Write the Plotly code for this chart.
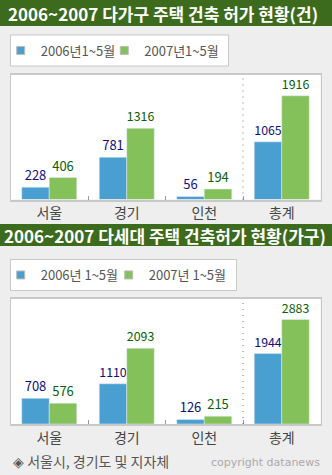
import plotly.graph_objects as go

W, H = 332, 475

# ---- data ----
regions = ["서울", "경기", "인천", "총계"]

title_house = "2006~2007 다가구 주택 건축 허가 현황(건)"
house_2006 = [228, 781, 56, 1065]
house_2007 = [406, 1316, 194, 1916]
house_names = ["2006년1~5월", "2007년1~5월"]

title_multi = "2006~2007 다세대 주택 건축허가 현황(가구)"
multi_2006 = [708, 1110, 126, 1944]
multi_2007 = [576, 2093, 215, 2883]
multi_names = ["2006년 1~5월", "2007년 1~5월"]

source_note = "◈ 서울시, 경기도 및 지자체"
copyright_note = "copyright datanews"

# ---- style ----
BLUE = "#4a9fd1"
GREEN = "#85c15a"
BLUE_TXT = "#10107a"
GREEN_TXT = "#0a600a"
TITLE_BG = "#3c6b1e"
PAGE_BG = "#eeeeee"
BORDER = "#c8c8c8"
KR = "Noto Sans CJK KR"


def px_x(v):
    return v / W


def px_y(v):
    return 1 - v / H


fig = go.Figure()


def add_panel(vals_a, vals_b, names, xa, ya, legend_ids):
    fig.add_trace(go.Bar(
        x=regions, y=vals_a, name=names[0], marker_color=BLUE,
        text=[str(v) for v in vals_a], textposition="outside",
        textfont=dict(color=BLUE_TXT, size=13, family=KR),
        cliponaxis=False, showlegend=False, xaxis=xa, yaxis=ya,
    ))
    fig.add_trace(go.Bar(
        x=regions, y=vals_b, name=names[1], marker_color=GREEN,
        text=[str(v) for v in vals_b], textposition="outside",
        textfont=dict(color=GREEN_TXT, size=13, family=KR),
        cliponaxis=False, showlegend=False, xaxis=xa, yaxis=ya,
    ))
    # legend swatches, one legend per entry so each can be placed freely
    for name, col, lid in zip(names, [BLUE, GREEN], legend_ids):
        fig.add_trace(go.Scatter(
            x=[None], y=[None], mode="markers", name=name,
            marker=dict(symbol="square", size=8, color=col,
                        line=dict(color="#bbbbbb", width=1)),
            xaxis=xa, yaxis=ya, legend=lid,
        ))


add_panel(house_2006, house_2007, house_names, "x", "y", ["legend", "legend2"])
add_panel(multi_2006, multi_2007, multi_names, "x2", "y2", ["legend3", "legend4"])

xcommon = dict(
    type="category", range=[-0.5, 3.5], showgrid=False, zeroline=False,
    showline=True, linecolor=BORDER, linewidth=1.5, mirror=True,
    ticks="inside", ticklen=4, tickcolor="#999999", tickson="boundaries",
    tickfont=dict(size=14, color="#444444", family=KR), fixedrange=True,
)
ycommon = dict(
    showgrid=False, zeroline=False, showticklabels=False, ticks="",
    showline=True, linecolor=BORDER, linewidth=1, mirror=True, fixedrange=True,
)

p1 = (75, 199.5)
p2 = (299, 424)
xdom = [px_x(10.5), px_x(320.5)]


def legend_at(px, py):
    return dict(
        orientation="h", x=px_x(px), y=px_y(py), xanchor="left", yanchor="middle",
        bgcolor="rgba(0,0,0,0)", borderwidth=0,
        font=dict(size=13, color="#555555", family=KR),
    )


fig.update_layout(
    width=W, height=H, margin=dict(l=0, r=0, t=0, b=0),
    paper_bgcolor=PAGE_BG, plot_bgcolor="white",
    barmode="group", bargap=0.29, bargroupgap=0,
    xaxis=dict(domain=xdom, anchor="y", **xcommon),
    yaxis=dict(domain=[px_y(p1[1]), px_y(p1[0])], anchor="x", range=[0, 2300], **ycommon),
    xaxis2=dict(domain=xdom, anchor="y2", **xcommon),
    yaxis2=dict(domain=[px_y(p2[1]), px_y(p2[0])], anchor="x2", range=[0, 3450], **ycommon),
    legend=legend_at(0.7, 50.5),
    legend2=legend_at(104.3, 50.5),
    legend3=legend_at(0.7, 275),
    legend4=legend_at(108.7, 275),
    showlegend=True,
)

shapes = [
    # title bars
    dict(type="rect", xref="paper", yref="paper", x0=0, x1=1, y0=px_y(26), y1=px_y(0),
         fillcolor=TITLE_BG, line_width=0, layer="below"),
    dict(type="rect", xref="paper", yref="paper", x0=0, x1=1, y0=px_y(246), y1=px_y(224),
         fillcolor=TITLE_BG, line_width=0, layer="below"),
    # legend boxes
    dict(type="rect", xref="paper", yref="paper", x0=px_x(10.5), x1=px_x(228.5),
         y0=px_y(66), y1=px_y(35), fillcolor="white", line=dict(color=BORDER, width=1),
         layer="below"),
    dict(type="rect", xref="paper", yref="paper", x0=px_x(10.5), x1=px_x(236.5),
         y0=px_y(290.5), y1=px_y(259.5), fillcolor="white", line=dict(color=BORDER, width=1),
         layer="below"),
    # dotted separator before the total
    dict(type="line", xref="x", yref="y domain", x0=2.5, x1=2.5, y0=0, y1=1,
         line=dict(color="#777777", width=1, dash="1px,5px")),
    dict(type="line", xref="x2", yref="y2 domain", x0=2.5, x1=2.5, y0=0, y1=1,
         line=dict(color="#777777", width=1, dash="1px,5px")),
]
fig.update_layout(shapes=shapes)

annotations = [
    dict(text=title_house, xref="paper", yref="paper", x=px_x(6), y=px_y(13),
         xanchor="left", yanchor="middle", showarrow=False,
         font=dict(size=17, color="white", family=KR, weight="bold")),
    dict(text=title_multi, xref="paper", yref="paper", x=px_x(2), y=px_y(235),
         xanchor="left", yanchor="middle", showarrow=False,
         font=dict(size=17, color="white", family=KR, weight="bold")),
    dict(text=source_note, xref="paper", yref="paper", x=px_x(11), y=px_y(461),
         xanchor="left", yanchor="middle", showarrow=False,
         font=dict(size=14, color="#555555", family=KR)),
    dict(text=copyright_note, xref="paper", yref="paper", x=px_x(322), y=px_y(462),
         xanchor="right", yanchor="middle", showarrow=False,
         font=dict(size=11, color="#aaaaaa", family="DejaVu Sans")),
]
fig.update_layout(annotations=annotations)

fig.write_html("out.html")
